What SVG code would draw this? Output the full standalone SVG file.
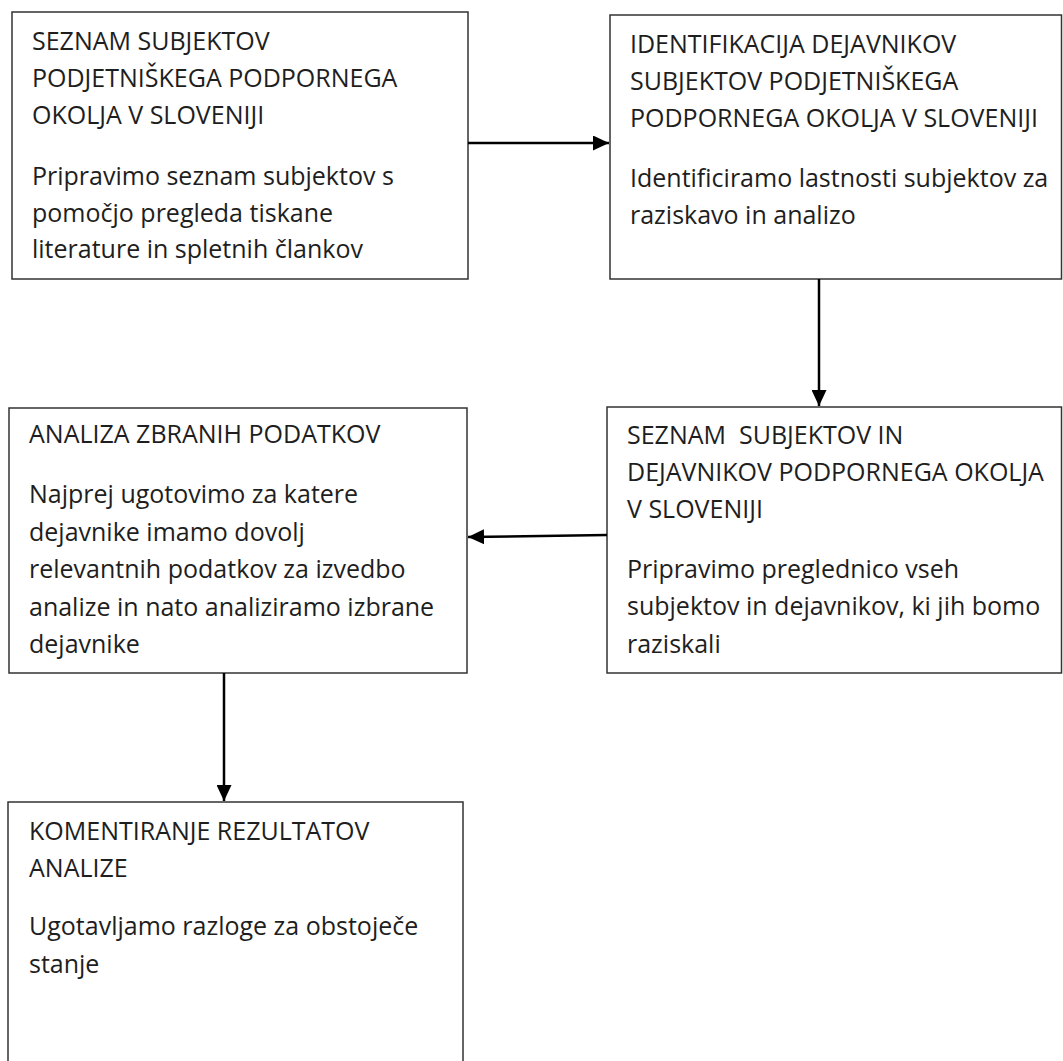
<svg xmlns="http://www.w3.org/2000/svg" width="1063" height="1061" viewBox="0 0 1063 1061">
<style>
.box{fill:#fff;stroke:#333;stroke-width:1.5}
.t{font-family:"Open Sans","Liberation Sans",sans-serif;font-size:25px;fill:#1e1e1e}
.c{stroke:#000;stroke-width:2.5;fill:none}
</style>
<defs>
<marker id="ah" markerWidth="16" markerHeight="15" refX="16" refY="7.5" orient="auto" markerUnits="userSpaceOnUse" viewBox="0 0 16 15">
<path d="M0,0 L16,7.5 L0,15 z" fill="#000"/>
</marker>
</defs>
<rect width="1063" height="1061" fill="#fff"/>
<g id="n1">
<rect class="box" x="12" y="12" width="456" height="267"/>
<text class="t" x="32" y="50">SEZNAM SUBJEKTOV</text>
<text class="t" x="32" y="87">PODJETNIŠKEGA PODPORNEGA</text>
<text class="t" x="32" y="124">OKOLJA V SLOVENIJI</text>
<text class="t" x="32" y="185">Pripravimo seznam subjektov s</text>
<text class="t" x="32" y="222">pomočjo pregleda tiskane</text>
<text class="t" x="32" y="258">literature in spletnih člankov</text>
</g>
<g id="n2">
<rect class="box" x="610" y="15" width="451.5" height="264"/>
<text class="t" x="630" y="53">IDENTIFIKACIJA DEJAVNIKOV</text>
<text class="t" x="630" y="90">SUBJEKTOV PODJETNIŠKEGA</text>
<text class="t" x="630" y="127">PODPORNEGA OKOLJA V SLOVENIJI</text>
<text class="t" x="630" y="187">Identificiramo lastnosti subjektov za</text>
<text class="t" x="630" y="224">raziskavo in analizo</text>
</g>
<g id="n3">
<rect class="box" x="607" y="407" width="454.5" height="266"/>
<text class="t" x="627" y="444" xml:space="preserve">SEZNAM  SUBJEKTOV IN</text>
<text class="t" x="627" y="481">DEJAVNIKOV PODPORNEGA OKOLJA</text>
<text class="t" x="627" y="518">V SLOVENIJI</text>
<text class="t" x="627" y="578">Pripravimo preglednico vseh</text>
<text class="t" x="627" y="615">subjektov in dejavnikov, ki jih bomo</text>
<text class="t" x="627" y="653">raziskali</text>
</g>
<g id="n4">
<rect class="box" x="9" y="408" width="458" height="265"/>
<text class="t" x="29" y="443">ANALIZA ZBRANIH PODATKOV</text>
<text class="t" x="29" y="503">Najprej ugotovimo za katere</text>
<text class="t" x="29" y="541">dejavnike imamo dovolj</text>
<text class="t" x="29" y="578">relevantnih podatkov za izvedbo</text>
<text class="t" x="29" y="616">analize in nato analiziramo izbrane</text>
<text class="t" x="29" y="653">dejavnike</text>
</g>
<g id="n5">
<rect class="box" x="8" y="802" width="455" height="300"/>
<text class="t" x="29" y="840">KOMENTIRANJE REZULTATOV</text>
<text class="t" x="29" y="877">ANALIZE</text>
<text class="t" x="29" y="935">Ugotavljamo razloge za obstoječe</text>
<text class="t" x="29" y="973">stanje</text>
</g>
<g id="connectors">
<line class="c" x1="468" y1="143" x2="609" y2="143" marker-end="url(#ah)"/>
<line class="c" x1="819" y1="279" x2="819" y2="406" marker-end="url(#ah)"/>
<line class="c" x1="607" y1="535" x2="468" y2="537" marker-end="url(#ah)"/>
<line class="c" x1="224" y1="673" x2="224" y2="801" marker-end="url(#ah)"/>
</g>
</svg>
